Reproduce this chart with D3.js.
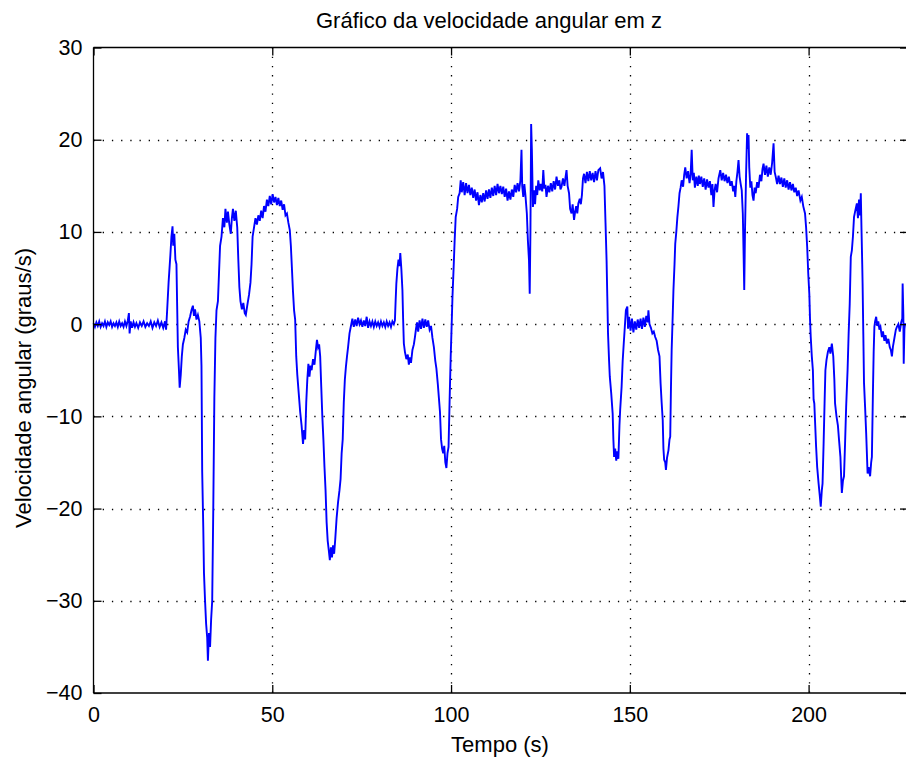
<!DOCTYPE html>
<html>
<head>
<meta charset="utf-8">
<script src="https://cdn.jsdelivr.net/npm/d3@7"></script>
<style>
  body { margin: 0; background: #fff; }
  svg text { font-family: "Liberation Sans", Arial, sans-serif; fill: #000; }
</style>
</head>
<body>
<div id="chart"></div>
<script>
// Dados (tempo em s, velocidade em graus/s)
const tempo = [
  0,0.4,0.8,1.2,1.6,2,2.4,2.8,3.2,3.6,4,4.4,4.8,5.2,5.6,6,6.4,6.8,7.2,7.6,8,8.4,8.8,9.2,9.6,9.9,10.1,10.4,10.8,11.2,11.6,12,12.5,13,13.5,14,14.5,15,15.5,16,16.5,17,17.5,18,18.5,19,19.5,20,20.3,
  20.6,21,21.5,21.8,22.1,22.3,22.6,22.9,23.2,23.4,23.6,23.9,24.1,24.4,24.7,25,25.4,25.8,26.2,26.6,27,27.4,27.8,28.1,28.4,28.8,29.2,29.6,30,30.2,30.4,30.7,30.9,31.2,31.5,31.8,32,32.3,32.6,32.9,33.2,33.5,33.8,34.1,34.4,34.8,
  35.1,35.4,35.8,36.2,36.6,36.9,37.3,37.6,38,38.4,38.7,39,39.4,39.8,40.2,40.5,40.8,41.1,41.5,41.9,42.3,42.6,43,43.5,43.9,44.2,44.5,44.9,45.3,45.7,46.1,46.5,46.9,47.3,47.7,48.1,48.5,48.9,49.3,49.7,50.1,50.5,50.9,51.3,51.7,52.1,52.5,52.9,53.3,53.7,54.1,54.5,54.9,
  55.2,55.5,55.8,56.1,56.4,56.7,57,57.4,57.8,58.2,58.6,58.9,59.2,59.5,59.8,60.1,60.4,60.7,61,61.4,61.8,62.2,62.5,62.8,63.1,63.4,63.7,64,64.3,64.6,64.9,65.2,65.5,65.8,66.1,66.4,66.7,67,67.3,67.6,68,68.4,68.8,69.1,69.4,69.7,70,70.3,70.6,70.9,71.2,71.6,72,
  72.4,72.8,73.2,73.6,74,74.4,74.8,75.2,75.6,76,76.4,76.8,77.2,77.6,78,78.4,78.8,79.2,79.6,80,80.4,80.8,81.2,81.6,82,82.4,82.8,83.2,83.6,84,84.3,84.5,84.7,85,85.3,85.6,85.8,86.1,86.4,86.6,86.8,87.1,87.5,87.9,88.2,88.5,88.8,89.2,89.6,89.9,
  90.2,90.5,90.8,91.2,91.6,92,92.4,92.8,93.2,93.6,94,94.4,94.8,95.2,95.6,95.9,96.3,96.6,96.9,97.2,97.5,97.8,98.1,98.4,98.7,99,99.3,99.6,99.9,100.1,100.4,100.7,101,101.3,101.7,102,102.4,102.7,103,103.4,103.8,104.2,104.6,105,105.4,105.8,106.2,106.6,107,107.4,107.8,
  108.2,108.6,109,109.4,109.8,110.2,110.6,111,111.4,111.8,112.2,112.6,113,113.4,113.8,114.2,114.6,115,115.4,115.8,116.2,116.6,117,117.4,117.8,118.2,118.6,119,119.4,119.7,119.9,120.2,120.5,120.8,121.2,121.5,121.8,122,122.2,122.4,122.6,122.9,123.2,123.5,123.8,124.1,124.4,124.8,
  125.1,125.5,125.8,126.1,126.4,126.7,127.1,127.5,127.9,128.3,128.7,129.1,129.5,129.9,130.3,130.6,130.9,131.3,131.7,132,132.3,132.6,133,133.3,133.7,134,134.4,134.7,135,135.3,135.6,136,136.3,136.6,136.9,137.2,137.6,138,138.4,138.8,139.2,139.6,140,140.4,140.8,141.2,141.7,142.1,142.5,142.9,
  143.2,143.5,143.7,143.9,144.2,144.4,144.8,145.2,145.4,145.6,145.9,146.2,146.5,146.8,147.1,147.3,147.7,148,148.3,148.6,148.9,149.3,149.5,149.8,150.2,150.6,151,151.4,151.8,152.2,152.6,153,153.4,153.8,154.2,154.6,155,155.2,155.5,155.9,156.3,156.7,157.1,157.5,157.9,158.3,158.6,158.9,
  159.2,159.4,159.6,159.9,160.1,160.4,160.8,161.1,161.3,161.5,161.7,162,162.2,162.5,162.7,163,163.3,163.6,163.9,164.2,164.5,164.9,165.2,165.5,165.9,166.3,166.7,167,167.3,167.6,167.9,168.2,168.6,169,169.3,169.6,170,170.4,170.8,171.2,171.6,172,172.4,172.8,173.1,173.4,173.7,174,174.4,174.8,
  175.3,175.7,176.1,176.5,176.9,177.3,177.7,178.1,178.5,178.9,179.2,179.5,179.8,180.1,180.4,180.7,181,181.3,181.6,181.8,182,182.2,182.5,182.8,183,183.2,183.4,183.7,184,184.3,184.6,184.9,185.2,185.6,186,186.4,186.8,187.1,187.4,187.8,188.2,188.6,189,189.4,189.8,190.2,190.5,190.8,
  191.2,191.6,192,192.4,192.8,193.2,193.6,194,194.4,194.8,195.2,195.6,196,196.4,196.8,197.2,197.7,198.1,198.5,199,199.3,199.6,199.9,200.2,200.4,200.6,200.9,201.2,201.4,201.6,201.8,202.1,202.4,202.8,203.1,203.4,203.7,203.9,204.2,204.5,204.7,205,205.4,205.8,206.1,206.5,206.9,
  207.2,207.4,207.8,208.2,208.5,208.9,209.1,209.3,209.6,209.9,210.2,210.5,210.9,211.2,211.5,211.8,212.1,212.4,212.7,213,213.5,213.8,214.1,214.4,214.6,214.8,215,215.1,215.3,215.5,215.8,216.1,216.5,216.8,217.2,217.5,217.7,218,218.2,218.4,218.6,218.9,219.2,219.5,219.8,
  220.1,220.5,220.8,221.2,221.5,221.9,222.3,222.7,223,223.3,223.6,224,224.4,224.7,225.1,225.5,225.9,226.2,226.3,226.5,226.6,226.8,227
];
const velocidade = [
  0.1,-0.3,0.2,-0.2,0.3,-0.3,0.1,-0.2,0.3,-0.3,0.2,-0.1,0.3,-0.3,0.1,-0.2,0.2,-0.3,0.3,-0.2,0.1,-0.3,0.3,-0.2,0.4,1.2,-1.0,0.3,-0.4,0.2,-0.3,0.1,-0.4,0.2,-0.2,0.3,-0.3,0.1,-0.2,0.3,-0.4,0.2,-0.2,0.4,-0.3,0.2,-0.4,0.3,-0.6,
  1.5,4.5,7.5,9.5,10.6,8.5,9.8,7.0,6.5,2.0,-2.5,-5.0,-6.9,-5.5,-3.5,-2.2,-1.5,-0.6,-0.9,0.3,0.8,1.5,2.0,0.9,1.6,0.5,1.0,0.3,-1.5,-4.5,-16,-22,-27,-30,-32.5,-34,-36.5,-33.5,-35,-32,-30,-20,-8,-1.5,1.5,2.5,
  5.5,8.5,9.5,11.5,10.5,12.5,11.0,12.2,10.8,9.8,11.5,12.5,11.2,12.3,10.5,7.0,4.0,2.5,1.6,2.3,1.2,1.0,2.0,3.2,4.5,6.5,9.5,10.5,11.5,10.8,11.8,11.2,12.3,11.5,12.8,12.2,13.5,12.8,13.9,13.0,14.1,13.2,13.8,12.9,13.7,12.8,13.4,12.4,13.0,11.8,12.0,11.0,10.2,
  8.5,6.0,3.5,1.5,0.5,-3.5,-5.5,-7.5,-9.5,-11.0,-13.0,-11.5,-12.5,-8.5,-6.0,-4.3,-5.7,-4.5,-5.0,-3.8,-4.4,-2.8,-1.7,-2.5,-2.2,-3.5,-6.8,-10,-12.5,-15.5,-18,-21.5,-23.5,-24.5,-25.6,-24.2,-25.3,-24.0,-24.9,-23.4,-21.0,-19.3,-18,-16.8,-14,-12.5,-8.5,-6.0,-4.6,-3.5,-2.5,-1.0,-0.2,
  0.6,-0.3,0.5,-0.2,0.7,0.0,0.4,-0.3,0.4,-0.2,0.8,-0.4,0.3,-0.2,0.3,-0.3,0.3,-0.2,0.2,-0.3,0.3,-0.2,0.2,-0.3,0.3,-0.2,0.2,-0.3,0.3,0.0,0.4,2.5,4.4,6.0,7.0,6.3,7.7,6.0,3.7,0.5,-2.1,-3.0,-3.8,-3.3,-4.4,-3.6,-4.2,-2.8,-2.2,-1.4,
  -0.5,0.2,-0.8,0.4,-0.5,0.6,-0.4,0.5,-0.3,0.4,-0.6,-0.2,-1.5,-2.5,-4.0,-4.8,-6.5,-8.0,-9.5,-12.5,-13.5,-14.0,-13.2,-15.0,-15.6,-14.0,-13.3,-8.2,-3.5,-1.0,3.0,5.9,9.0,11.6,12.5,13.8,14.2,15.6,14.3,15.4,14.0,15.3,14.2,15.1,14.0,14.8,13.7,14.6,13.4,14.3,12.9,
  14.0,13.2,14.2,13.3,14.5,13.6,14.6,13.7,14.8,13.9,15.0,14.0,15.2,14.2,15.0,14.1,14.9,13.8,14.7,13.4,14.4,13.5,14.6,13.8,15.1,14.3,15.3,14.4,15.6,18.9,15.0,13.8,15.2,14.0,12.0,9.0,6.9,3.3,10.0,21.7,19.0,12.7,14.5,13.0,15.0,14.0,15.6,14.5,
  15.2,14.4,16.7,14.7,15.1,13.8,15.0,14.3,15.3,14.4,15.5,14.6,16.0,15.0,15.6,14.6,14.9,15.8,15.0,15.9,16.7,15.0,14.2,12.5,12.0,13.0,11.3,12.2,12.8,12.0,13.1,13.6,13.0,14.0,15.8,16.3,15.3,16.5,15.5,16.6,15.6,16.4,15.4,16.6,15.6,16.7,16.9,15.8,16.5,15.0,
  11.0,6.9,3.0,-1.0,-4.0,-5.7,-7.5,-9.7,-12.5,-14.4,-13.5,-14.8,-13.8,-14.6,-11.0,-9.3,-6.8,-4.0,-2.1,-0.3,1.5,1.9,-0.5,0.8,-0.7,0.6,-0.9,0.3,-0.6,0.5,-0.4,0.6,-0.5,0.7,-0.3,0.9,0.2,1.5,0.0,-0.4,-1.0,-0.8,-1.4,-1.8,-2.8,-3.5,-6.4,-8.5,
  -10.4,-13.5,-14.7,-15.0,-15.8,-14.5,-13.7,-12.5,-12.2,-7.0,-2.8,1.0,3.7,6.5,8.7,10.0,11.6,12.8,14.2,14.8,15.6,14.9,16.2,17.0,15.8,16.6,15.3,16.2,18.9,15.6,16.4,14.8,16.0,15.0,16.1,15.2,16.0,14.9,15.8,14.6,15.7,14.8,15.5,14.0,15.2,12.7,14.5,15.2,14.3,15.8,
  16.7,15.6,16.4,15.5,16.2,15.3,16.0,15.0,15.5,14.4,15.0,13.8,15.5,16.5,17.8,16.0,15.2,14.5,12.0,8.0,3.7,9.8,16.0,20.7,19.0,20.5,17.0,14.8,15.5,14.0,13.4,14.8,14.2,15.4,14.8,16.2,15.5,16.8,17.4,16.2,17.2,16.0,17.0,16.2,17.5,19.6,16.5,16.0,
  15.2,16.1,15.2,15.9,14.9,15.8,14.8,15.6,14.6,15.4,14.5,15.2,14.3,14.8,13.9,14.5,13.4,13.8,12.8,12.0,10.5,8.4,5.5,3.3,0.5,-1.4,-3.5,-5.0,-8.2,-8.6,-10.5,-13.3,-15.5,-17.3,-18.5,-19.8,-18.0,-17.3,-12.9,-8.0,-5.0,-3.9,-3.0,-2.5,-3.2,-2.1,-3.5,
  -6.0,-8.6,-10.0,-11.0,-12.5,-14.4,-16.5,-18.3,-17.0,-16.5,-12.9,-9.0,-5.0,-1.0,2.2,7.3,8.0,9.5,11.6,12.2,13.1,11.5,13.5,11.8,14.2,10.2,6.5,4.4,-1.0,-6.4,-9.0,-11.8,-16.2,-15.5,-16.5,-15.0,-14.4,-7.2,-3.0,-0.3,0.3,0.8,-0.2,0.3,-0.6,
  -0.3,-1.4,-0.8,-1.8,-1.2,-2.1,-1.6,-2.5,-2.8,-3.5,-2.4,-1.5,-0.6,-0.3,0.0,-0.8,0.2,0.6,4.4,1.0,-4.3,-0.5,0.1
];
const ticksX = [0, 50, 100, 150, 200];
const ticksY = [-40, -30, -20, -10, 0, 10, 20, 30];

const titulo = 'Gráfico da velocidade angular em z';
const rotuloX = 'Tempo (s)';
const rotuloY = 'Velocidade angular (graus/s)';

// Configurações
const width = 906, height = 763;
const mLeft = 93.5, mTop = 47.5, mRight = 908, mBottom = 693;
const fonte = 21.5;

const svg = d3.select('#chart').append('svg')
    .attr('width', width)
    .attr('height', height);

const x = d3.scaleLinear().domain([0, 227.8]).range([mLeft, mRight]);
const y = d3.scaleLinear().domain([-40, 30]).range([mBottom, mTop]);

// Grade pontilhada
svg.append('g').selectAll('line')
    .data(ticksX.slice(1))
    .enter().append('line')
    .attr('x1', d => Math.round(x(d)) + 0.5).attr('x2', d => Math.round(x(d)) + 0.5)
    .attr('y1', mTop).attr('y2', mBottom)
    .attr('stroke', '#000').attr('stroke-width', 1.3)
    .attr('stroke-dasharray', '1.3,7.9');
svg.append('g').selectAll('line')
    .data(ticksY.slice(1, -1))
    .enter().append('line')
    .attr('x1', mLeft).attr('x2', mRight)
    .attr('y1', d => Math.round(y(d)) + 0.5).attr('y2', d => Math.round(y(d)) + 0.5)
    .attr('stroke', '#000').attr('stroke-width', 1.3)
    .attr('stroke-dasharray', '1.3,7.9');

// Série
const pontos = tempo.map((t, i) => [t, velocidade[i]]);
svg.append('path')
    .datum(pontos)
    .attr('fill', 'none')
    .attr('stroke', '#0000ff')
    .attr('stroke-width', 1.9)
    .attr('d', d3.line().x(d => x(d[0])).y(d => y(d[1])));

// Eixos (ticks para dentro, estilo MATLAB)
const eixoX = svg.append('g')
    .attr('transform', `translate(0,${mBottom})`)
    .call(d3.axisBottom(x).tickValues(ticksX).tickSize(-8).tickPadding(14).tickFormat(d3.format('d')));
const eixoXTopo = svg.append('g')
    .attr('transform', `translate(0,${mTop})`)
    .call(d3.axisTop(x).tickValues(ticksX).tickSize(-8).tickFormat(''));
const eixoY = svg.append('g')
    .attr('transform', `translate(${mLeft},0)`)
    .call(d3.axisLeft(y).tickValues(ticksY).tickSize(-8).tickPadding(11).tickFormat(d3.format('d')));
const eixoYDir = svg.append('g')
    .attr('transform', `translate(${mRight},0)`)
    .call(d3.axisRight(y).tickValues(ticksY).tickSize(-8).tickFormat(''));

svg.selectAll('.domain').attr('stroke', '#000').attr('stroke-width', 1.3);
svg.selectAll('.tick line').attr('stroke', '#000').attr('stroke-width', 1.3);
svg.selectAll('.tick text').attr('font-size', fonte).attr('font-family', '"Liberation Sans", Arial, sans-serif').attr('fill', '#000');
eixoX.selectAll('.domain').attr('d', `M${mLeft},0H${mRight}`);
eixoY.selectAll('.domain').attr('d', `M0,${mTop}V${mBottom}`);
eixoXTopo.selectAll('.domain').attr('d', `M${mLeft},0H${mRight}`);
eixoYDir.selectAll('.domain').attr('d', `M0,${mTop}V${mBottom}`);

// Títulos
svg.append('text')
    .attr('x', 489).attr('y', 28)
    .attr('text-anchor', 'middle')
    .attr('font-size', 22)
    .text(titulo);
svg.append('text')
    .attr('x', 500).attr('y', 752)
    .attr('text-anchor', 'middle')
    .attr('font-size', 22)
    .text(rotuloX);
svg.append('text')
    .attr('transform', 'translate(31,388) rotate(-90)')
    .attr('text-anchor', 'middle')
    .attr('font-size', 22)
    .text(rotuloY);
</script>
</body>
</html>
